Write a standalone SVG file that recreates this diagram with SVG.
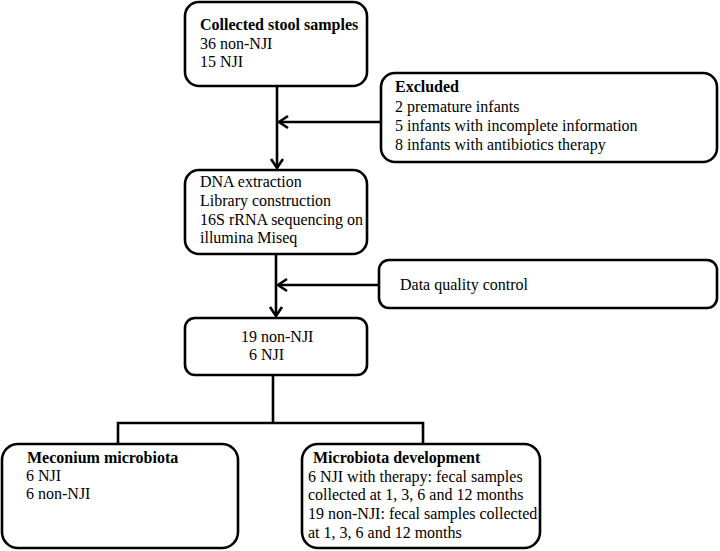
<svg xmlns="http://www.w3.org/2000/svg" width="720" height="551" viewBox="0 0 720 551">
<style>
.box{fill:#fff;stroke:#000;stroke-width:2.6}
.t{font-family:"Liberation Serif","Times New Roman",serif;font-size:16px;fill:#000}
.b{font-weight:bold}
.c{fill:none;stroke:#000;stroke-width:2.6}
</style>
<defs>
<marker id="ah" markerUnits="userSpaceOnUse" markerWidth="16" markerHeight="16" refX="13" refY="8" orient="auto">
<path d="M4,2 L13,8 L4,14" fill="none" stroke="#000" stroke-width="2.6"/>
</marker>
</defs>
<rect width="720" height="551" fill="#fff"/>
<g id="connectors">
<line class="c" x1="277" y1="86" x2="277" y2="168" marker-end="url(#ah)"/>
<line class="c" x1="381" y1="122" x2="279" y2="122" marker-end="url(#ah)"/>
<line class="c" x1="276" y1="255" x2="276" y2="316" marker-end="url(#ah)"/>
<line class="c" x1="379" y1="285" x2="278" y2="285" marker-end="url(#ah)"/>
<polyline class="c" points="273,375 273,423"/>
<polyline class="c" points="118,444 118,423 423,423 423,444"/>
</g>
<g id="collected">
<rect class="box" x="185" y="2" width="182" height="84" rx="14"/>
<text class="t b" x="200" y="30">Collected stool samples</text>
<text class="t" x="200" y="49">36 non-NJI</text>
<text class="t" x="200" y="67">15 NJI</text>
</g>
<g id="excluded">
<rect class="box" x="381" y="73" width="336" height="89" rx="14"/>
<text class="t b" x="395" y="92">Excluded</text>
<text class="t" x="395" y="111.5">2 premature infants</text>
<text class="t" x="395" y="131">5 infants with incomplete information</text>
<text class="t" x="395" y="150">8 infants with antibiotics therapy</text>
</g>
<g id="sequencing">
<rect class="box" x="185" y="170" width="182" height="84" rx="14"/>
<text class="t" x="200" y="187">DNA extraction</text>
<text class="t" x="200" y="206">Library construction</text>
<text class="t" x="200" y="225">16S rRNA sequencing on</text>
<text class="t" x="200" y="243">illumina Miseq</text>
</g>
<g id="qc">
<rect class="box" x="379" y="260" width="338" height="48" rx="10"/>
<text class="t" x="400" y="290">Data quality control</text>
</g>
<g id="filtered">
<rect class="box" x="185" y="318" width="182" height="57" rx="10"/>
<text class="t" x="241" y="342">19 non-NJI</text>
<text class="t" x="249" y="360">6 NJI</text>
</g>
<g id="meconium">
<rect class="box" x="2" y="444" width="236" height="104" rx="16"/>
<text class="t b" x="27" y="463">Meconium microbiota</text>
<text class="t" x="26" y="481">6 NJI</text>
<text class="t" x="26" y="499">6 non-NJI</text>
</g>
<g id="development">
<rect class="box" x="302" y="444" width="238" height="104" rx="16"/>
<text class="t b" x="313" y="463">Microbiota development</text>
<text class="t" x="308" y="482">6 NJI with therapy: fecal samples</text>
<text class="t" x="308" y="500">collected at 1, 3, 6 and 12 months</text>
<text class="t" x="308" y="519">19 non-NJI: fecal samples collected</text>
<text class="t" x="308" y="538">at 1, 3, 6 and 12 months</text>
</g>
</svg>
